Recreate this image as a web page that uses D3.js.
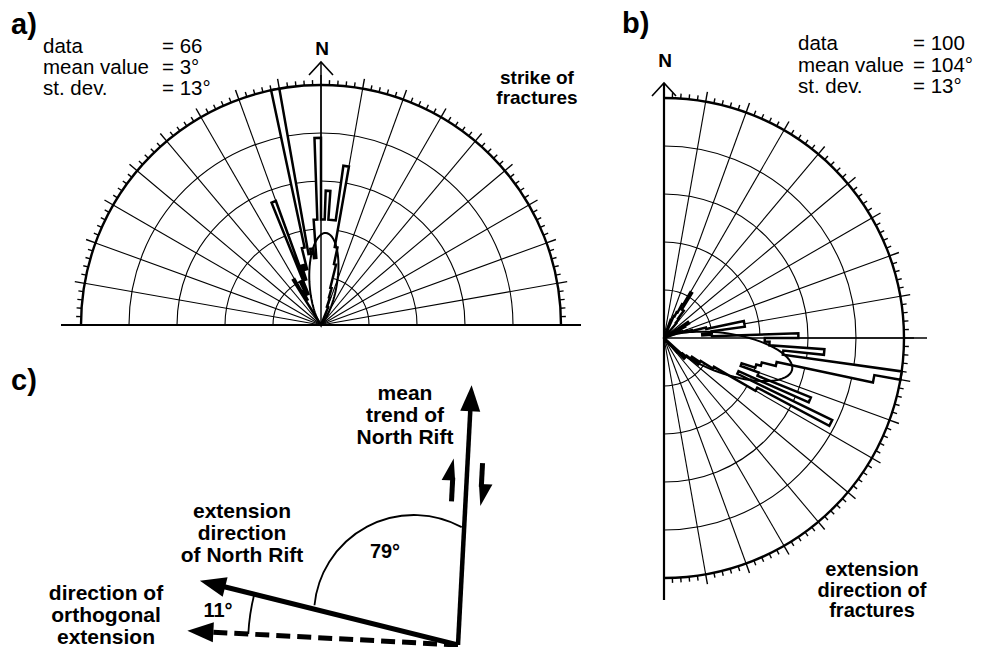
<!DOCTYPE html>
<html lang="en">
<head>
<meta charset="utf-8">
<title>Rose diagrams of fractures, North Rift</title>
<script src="https://cdn.jsdelivr.net/npm/d3@7"></script>
<style>
body { margin: 0; background: #fff; }
svg text { font-family: "Liberation Sans", Arial, sans-serif; fill: #000; }
.b { font-weight: bold; }
</style>
</head>
<body>
<script>
// panel a: strike of fractures, 2 degree bins (bin start azimuth), bar length in ring units
var aBins = [-32, -30, -28, -26, -24, -22, -20, -18, -16, -14, -12, -10, -8, -6, -4, -2, 0, 2, 4, 6, 8, 10, 12, 14, 16, 18, 20];
var aVals = [1.1, 0.6, 0.8, 1.0, 0.7, 2.75, 1.0, 1.3, 1.2, 1.65, 5.0, 1.5, 1.6, 1.4, 2.2, 3.9, 2.2, 2.8, 2.2, 2.2, 3.35, 1.65, 1.3, 0.8, 0.6, 0.4, 0.4];
var aStatNames = ["data", "mean value", "st. dev."];
var aStatVals = ["= 66", "= 3°", "= 13°"];
var aMean = 3, aSd = 15, aPeak = 1.92;

// panel b: extension direction of fractures
var bBins = [20, 24, 26, 28, 30, 32, 34, 36, 38, 56, 58, 60, 70, 72, 74, 76, 78, 80, 82, 84, 86, 88, 90, 92, 94, 96, 98, 100, 102, 104, 106, 108, 110, 112, 114, 116, 118, 120, 122, 124, 126, 128, 130, 134, 136];
var bVals = [0.4, 0.5, 0.6, 0.8, 1.1, 0.7, 0.7, 0.5, 0.4, 0.6, 0.6, 0.5, 0.4, 0.5, 0.6, 0.9, 1.7, 1.7, 1.0, 0.8, 1.0, 2.8, 2.1, 2.2, 3.35, 2.5, 5.0, 4.45, 2.4, 2.1, 2.0, 1.7, 2.1, 3.3, 1.7, 3.9, 2.2, 1.2, 0.9, 0.7, 0.9, 0.6, 0.5, 0.6, 0.4];
var bStatNames = ["data", "mean value", "st. dev."];
var bStatVals = ["= 100", "= 104°", "= 13°"];
var bMean = 104, bSd = 15, bPeak = 2.75;

// panel c: directions (azimuth, arrow length px)
var cNames = ["trend", "extension", "orthogonal"];
var cAz = [3, 284, 273];
var cLen = [260, 266, 271];
var cAngleLabels = ["79°", "11°"];

var w = 986, h = 647;
var svg = d3.select("body").append("svg").attr("width", w).attr("height", h);

var R = 240;
var r = d3.scaleLinear().domain([0, 5]).range([0, R]);
var rad = function(d) { return d * Math.PI / 180; };
function pt(radius, az) { return [radius * Math.sin(rad(az)), -radius * Math.cos(rad(az))]; }
function arcD(radius, az0, az1) {
  var p = d3.path();
  p.arc(0, 0, radius, rad(az0 - 90), rad(az1 - 90));
  return p.toString();
}
function seg(g, p0, p1, sw) {
  return g.append("line").attr("x1", p0[0]).attr("y1", p0[1]).attr("x2", p1[0]).attr("y2", p1[1])
    .attr("stroke", "#000").attr("stroke-width", sw);
}

var radial = d3.lineRadial()
  .angle(function(d) { return rad(d[0]); })
  .radius(function(d) { return r(d[1]); });

function rose(g, from, to, bins, vals, mean, sd, peak) {
  // rings
  d3.range(1, 5).forEach(function(k) {
    g.append("path").attr("d", arcD(r(k), from, to)).attr("fill", "none").attr("stroke", "#000").attr("stroke-width", 1.1);
  });
  // spokes every 10 degrees
  d3.range(from + 10, to, 10).forEach(function(az) { seg(g, [0, 0], pt(R, az), 1.1); });
  // ticks every 2 degrees
  d3.range(from + 2, to - 1, 2).forEach(function(az) {
    var major = az % 10 === 0;
    seg(g, pt(R, az), pt(R + (major ? 10 : 5), az), 1.4);
  });
  g.append("path").attr("d", arcD(R, from, to)).attr("fill", "none").attr("stroke", "#000").attr("stroke-width", 2.4);

  // histogram outline
  var verts = [[bins[0], 0]];
  bins.forEach(function(b, i) {
    var v = vals[i];
    if (v > 0) { verts.push([b, v], [b + 2, v]); }
    var next = i + 1 < bins.length && bins[i + 1] === b + 2 && vals[i + 1] > 0;
    if (!next) verts.push([b + 2, 0]);
  });
  g.append("path").attr("d", radial(verts) + "Z")
    .attr("fill", "#fff").attr("stroke", "#000").attr("stroke-width", 2.5).attr("stroke-linejoin", "miter");

  // fitted normal curve
  var curve = d3.range(mean - 45, mean + 45.5, 1).map(function(az) {
    return [az, peak * Math.exp(-(az - mean) * (az - mean) / (2 * sd * sd))];
  });
  curve.unshift([mean - 45, 0]); curve.push([mean + 45, 0]);
  g.append("path").attr("d", radial(curve)).attr("fill", "none").attr("stroke", "#000").attr("stroke-width", 2);
}

function stats(x1, x2, ys, names, vals) {
  names.forEach(function(n, i) {
    svg.append("text").attr("x", x1).attr("y", ys[i]).attr("font-size", 20.5).text(n);
    svg.append("text").attr("x", x2).attr("y", ys[i]).attr("font-size", 20.5).text(vals[i]);
  });
}
function label(x, ys, lines, size) {
  lines.forEach(function(t, i) {
    svg.append("text").attr("class", "b").attr("x", x).attr("y", ys[i]).attr("text-anchor", "middle")
      .attr("font-size", size).text(t);
  });
}
function openHead(g, len) {
  g.append("path").attr("d", "M-12," + (-len + 13) + "L0," + (-len) + "L12," + (-len + 13))
    .attr("fill", "none").attr("stroke", "#000").attr("stroke-width", 1.6);
}

// ---- panel a
var ga = svg.append("g").attr("transform", "translate(321,325)");
rose(ga, -90, 90, aBins, aVals, aMean, aSd, aPeak);
seg(ga, pt(R + 20, -90), pt(R + 20, 90), 2.2);
seg(ga, [0, 0], pt(R + 23, 0), 1.5);
openHead(ga, R + 23);
svg.append("text").attr("class", "b").attr("x", 322).attr("y", 55).attr("text-anchor", "middle").attr("font-size", 19).text("N");
svg.append("text").attr("class", "b").attr("x", 11).attr("y", 34).attr("font-size", 29).text("a)");
stats(43, 162, [53, 74, 95], aStatNames, aStatVals);
label(537, [84, 104], ["strike of", "fractures"], 19);

// ---- panel b
var gb = svg.append("g").attr("transform", "translate(664,338)");
rose(gb, 0, 180, bBins, bVals, bMean, bSd, bPeak);
seg(gb, pt(R + 22, 180), pt(R + 15, 0), 2.2);
seg(gb, [0, 0], pt(R + 23, 90), 1.5);
openHead(gb, R + 15);
svg.append("text").attr("class", "b").attr("x", 665).attr("y", 67).attr("text-anchor", "middle").attr("font-size", 19).text("N");
svg.append("text").attr("class", "b").attr("x", 622).attr("y", 33).attr("font-size", 29).text("b)");
stats(798, 913, [50, 71.5, 93], bStatNames, bStatVals);
label(872, [576, 596.5, 617], ["extension", "direction of", "fractures"], 20);

// ---- panel c
var O = [458, 645];
var gc = svg.append("g").attr("transform", "translate(" + O[0] + "," + O[1] + ")");
function dir(az) { return [Math.sin(rad(az)), -Math.cos(rad(az))]; }
function arrow(az, len, sw, dash) {
  var d = dir(az), n = [-d[1], d[0]];
  var head = 26, hw = 10;
  var t = [d[0] * len, d[1] * len];
  var base = [t[0] - d[0] * head, t[1] - d[1] * head];
  var l = seg(gc, [0, 0], [t[0] - d[0] * (head - 4), t[1] - d[1] * (head - 4)], sw);
  if (dash) l.attr("stroke-dasharray", dash);
  gc.append("path").attr("d", "M" + t + "L" + [base[0] + n[0] * hw, base[1] + n[1] * hw] + "L" + [base[0] - n[0] * hw, base[1] - n[1] * hw] + "Z")
    .attr("fill", "#000");
}
arrow(cAz[0], cLen[0], 4.5);
arrow(cAz[1], cLen[1], 5);
arrow(cAz[2], cLen[2], 5, "14,7");

// shear half-arrows beside the trend line (barb on the outer side)
function halfArrow(off, s0, s1, side) {
  var d = dir(cAz[0]), n = [-d[1], d[0]];
  var p0 = [d[0] * s0 + n[0] * off, d[1] * s0 + n[1] * off];
  var p1 = [d[0] * s1 + n[0] * off, d[1] * s1 + n[1] * off];
  var sgn = s1 > s0 ? 1 : -1;
  var back = [p1[0] - d[0] * 22 * sgn, p1[1] - d[1] * 22 * sgn];
  seg(gc, p0, [back[0] + d[0] * 3 * sgn, back[1] + d[1] * 3 * sgn], 5);
  gc.append("path").attr("d", "M" + p1 + "L" + [back[0] + n[0] * 11 * side, back[1] + n[1] * 11 * side] + "L" + [back[0] - n[0] * 2.5 * side, back[1] - n[1] * 2.5 * side] + "Z")
    .attr("fill", "#000");
}
halfArrow(-14, 143, 186, -1);
halfArrow(15, 183, 140, 1);

// angle arcs
var p79 = d3.path();
p79.arc(-44, -30, 100, rad(185.6), rad(298.5));
gc.append("path").attr("d", p79.toString()).attr("fill", "none").attr("stroke", "#000").attr("stroke-width", 1.8);
gc.append("path").attr("d", arcD(210, cAz[2], cAz[1])).attr("fill", "none").attr("stroke", "#000").attr("stroke-width", 1.8);

svg.append("text").attr("class", "b").attr("x", 385).attr("y", 558).attr("text-anchor", "middle").attr("font-size", 20).text(cAngleLabels[0]);
svg.append("text").attr("class", "b").attr("x", 218).attr("y", 617).attr("text-anchor", "middle").attr("font-size", 20).text(cAngleLabels[1]);
svg.append("text").attr("class", "b").attr("x", 11).attr("y", 390).attr("font-size", 29).text("c)");
label(405, [400, 422, 444], ["mean", "trend of", "North Rift"], 21);
label(242, [518, 540, 562], ["extension", "direction", "of North Rift"], 21);
label(106, [600, 622, 644], ["direction of", "orthogonal", "extension"], 21);
</script>
</body>
</html>
